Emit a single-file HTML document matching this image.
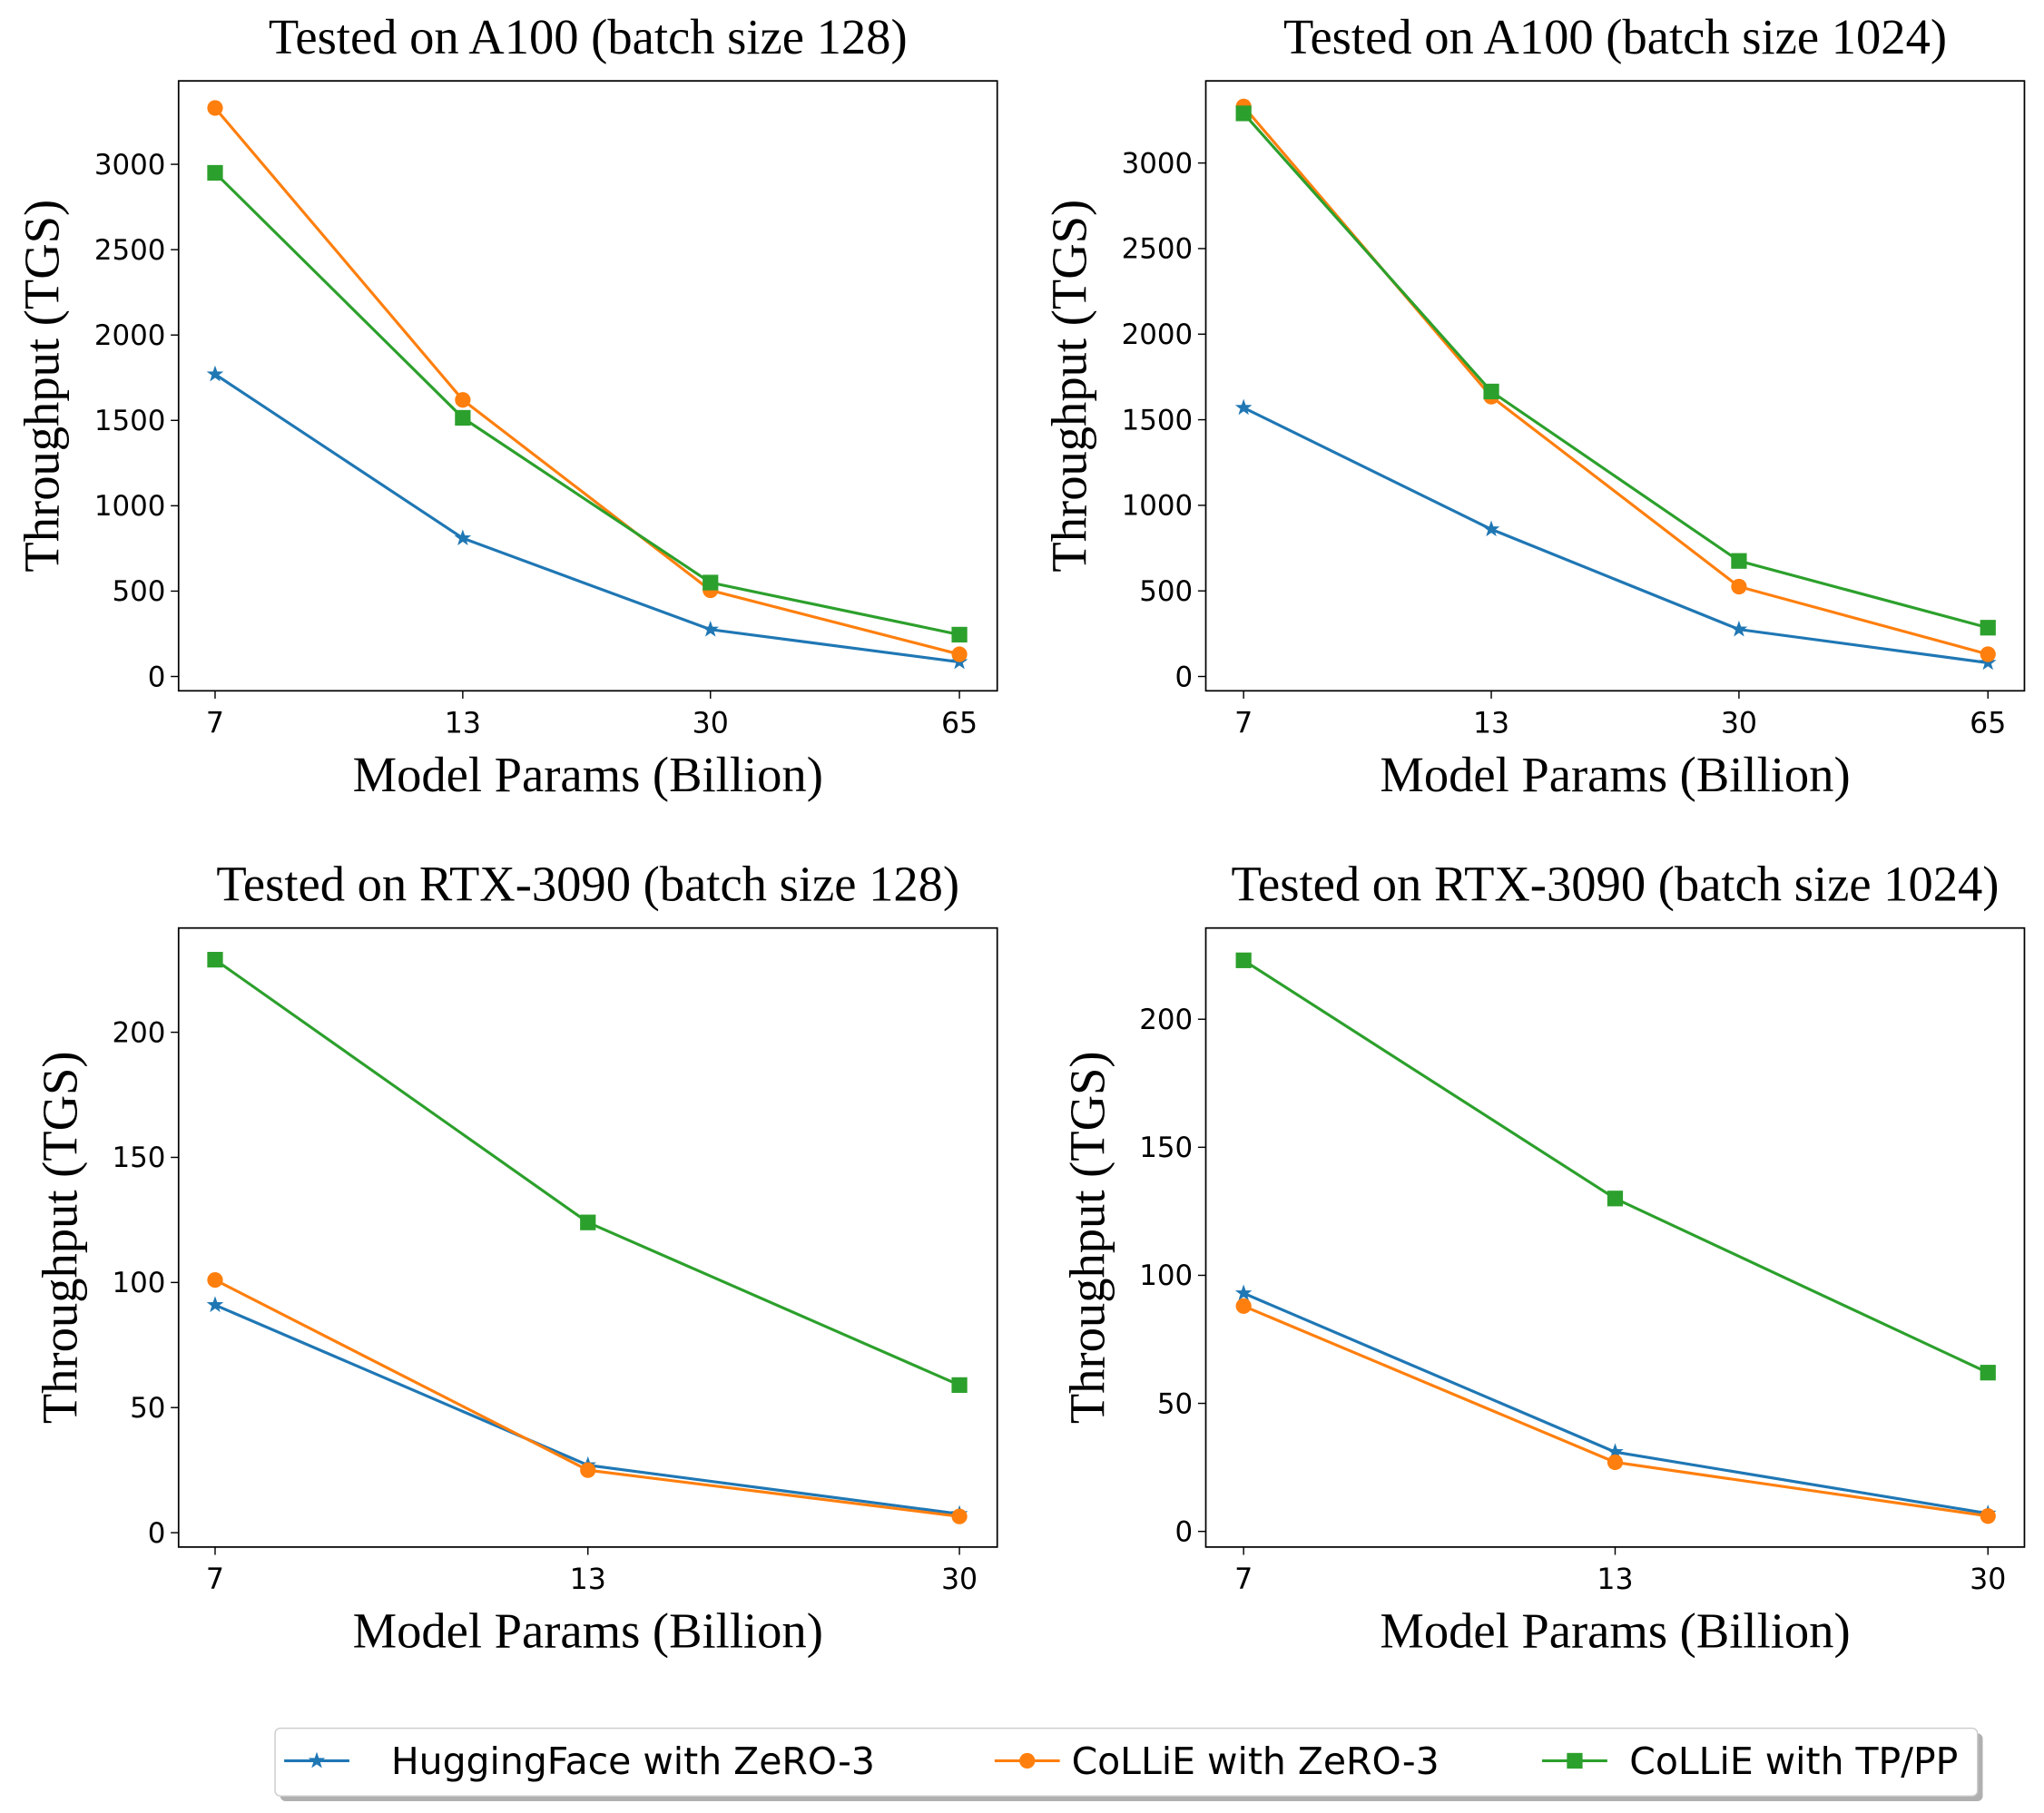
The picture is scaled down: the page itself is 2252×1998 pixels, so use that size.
<!DOCTYPE html>
<html><head><meta charset="utf-8"><style>
html,body{margin:0;padding:0;background:#fff;}
svg{display:block;}
.t{font-family:"Liberation Serif",serif;fill:#000;}
.s{font-family:"DejaVu Sans","Liberation Sans",sans-serif;fill:#000;}
</style></head><body>
<svg id="fig" width="2252" height="1998" viewBox="0 0 1568 1391" xmlns="http://www.w3.org/2000/svg"></svg>
<script>
const seriesNames = ["HuggingFace with ZeRO-3","CoLLiE with ZeRO-3","CoLLiE with TP/PP"];
const colors = ["#1f77b4","#ff7f0e","#2ca02c"];
const catsA100 = ["7","13","30","65"];
const catsRTX = ["7","13","30"];
const a100b128Hf = [1770,810,275,85];
const a100b128Zero = [3330,1620,505,130];
const a100b128Tp = [2950,1515,550,245];
const a100b1024Hf = [1570,860,275,80];
const a100b1024Zero = [3330,1635,525,130];
const a100b1024Tp = [3290,1665,675,285];
const rtxb128Hf = [91,27,7.5];
const rtxb128Zero = [101,25,6.5];
const rtxb128Tp = [229,124,59];
const rtxb1024Hf = [93,31,7];
const rtxb1024Zero = [88,27,6];
const rtxb1024Tp = [223,130,62];
const ticksA100 = [0,500,1000,1500,2000,2500,3000];
const ticksRTX = [0,50,100,150,200];

const NS="http://www.w3.org/2000/svg";
const svg=document.getElementById('fig');
function mk(tag,attrs,parent){const e=document.createElementNS(NS,tag);for(const k in attrs)e.setAttribute(k,attrs[k]);(parent||svg).appendChild(e);return e;}
function marker(g,i,x,y){
  if(i===0){
    const pts=[];for(let k=0;k<10;k++){const r=k%2?2.7:6.8;const a=-Math.PI/2+k*Math.PI/5;pts.push((x+r*Math.cos(a)).toFixed(2)+','+(y+r*Math.sin(a)).toFixed(2));}
    const m=mk('polygon',{points:pts.join(' '),fill:colors[0]},g);
    
    
  } else if(i===1){
    const m=mk('circle',{cx:x,cy:y,r:6,fill:colors[1]},g);
    
    
  } else {
    const m=mk('rect',{x:x-6,y:y-6,width:12,height:12,fill:colors[2]},g);
    
    
  }
}
function panel(name,title,L,R,T,B,xpos,y0px,ymax,ymaxpx,cats,ticks,series,ylOff){
  const g=mk('g',{});
  
  
  const ys=v=>y0px+(ymaxpx-y0px)*v/ymax;
  const xs=i=>xpos[i];
  const tt=mk('text',{x:(L+R)/2,y:T-21,'font-size':38,'text-anchor':'middle',class:'t'},g);
  tt.textContent=title;
  
  
  ticks.forEach(v=>{
    const y=ys(v);
    mk('line',{x1:L-6,x2:L,y1:y,y2:y,stroke:'#000','stroke-width':1},g);
    const lb=mk('text',{x:L-10,y:y+7.5,'font-size':21.5,'text-anchor':'end',class:'s'},g);
    lb.textContent=v;
    
    
  });
  cats.forEach((c,i)=>{
    const x=xs(i);
    mk('line',{x1:x,x2:x,y1:B,y2:B+6,stroke:'#000','stroke-width':1},g);
    const lb=mk('text',{x:x,y:B+32,'font-size':22,'text-anchor':'middle',class:'s'},g);
    lb.textContent=c;
    
    
  });
  series.forEach((vals,si)=>{
    const sg=mk('g',{},g);
    
    
    const pts=vals.map((v,i)=>xs(i)+','+ys(v)).join(' ');
    const pl=mk('polyline',{points:pts,fill:'none',stroke:colors[si],'stroke-width':2.2},sg);
    
    
    vals.forEach((v,i)=>marker(sg,si,xs(i),ys(v)));
  });
  const fr=mk('rect',{x:L,y:T,width:R-L,height:B-T,fill:'none',stroke:'#000','stroke-width':1.2},g);
  
  
  const xl=mk('text',{x:(L+R)/2,y:B+77,'font-size':38,'text-anchor':'middle',class:'t'},g);
  xl.textContent='Model Params (Billion)';
  
  
  const yc=(T+B)/2;
  const yl=mk('text',{x:0,y:0,'font-size':38,'text-anchor':'middle',class:'t',transform:`translate(${L-ylOff},${yc}) rotate(-90)`},g);
  yl.textContent='Throughput (TGS)';
  
  
}
panel('panel-a100-b128','Tested on A100 (batch size 128)',137,765,62,530,[165,355,545,736],519,3000,126,catsA100,ticksA100,[a100b128Hf,a100b128Zero,a100b128Tp],92);
panel('panel-a100-b1024','Tested on A100 (batch size 1024)',925,1553,62,530,[954,1144,1334,1525],519,3000,125,catsA100,ticksA100,[a100b1024Hf,a100b1024Zero,a100b1024Tp],92);
panel('panel-rtx-b128','Tested on RTX-3090 (batch size 128)',137,765,712,1187,[165,451,736],1176,200,792,catsRTX,ticksRTX,[rtxb128Hf,rtxb128Zero,rtxb128Tp],78);
panel('panel-rtx-b1024','Tested on RTX-3090 (batch size 1024)',925,1553,712,1187,[954,1239,1525],1175,200,782,catsRTX,ticksRTX,[rtxb1024Hf,rtxb1024Zero,rtxb1024Tp],78);
// legend
const lg=mk('g',{});


mk('rect',{x:215,y:1330,width:1306,height:52,rx:4,fill:'#b0b0b0'},lg);
mk('rect',{x:211,y:1326,width:1306,height:52,rx:4,fill:'#fff',stroke:'#ccc','stroke-width':1},lg);
const lx=[218,763,1183];
const tx=[300,822,1250];
seriesNames.forEach((n,i)=>{
  const eg=mk('g',{},lg);
  
  
  mk('line',{x1:lx[i],x2:lx[i]+50,y1:1351,y2:1351,stroke:colors[i],'stroke-width':2.2},eg);
  marker(eg,i,lx[i]+25,1351);
  const t=mk('text',{x:tx[i],y:1361,'font-size':28.5,class:'s'},eg);
  t.textContent=n;
  
  
});
</script>
</body></html>
